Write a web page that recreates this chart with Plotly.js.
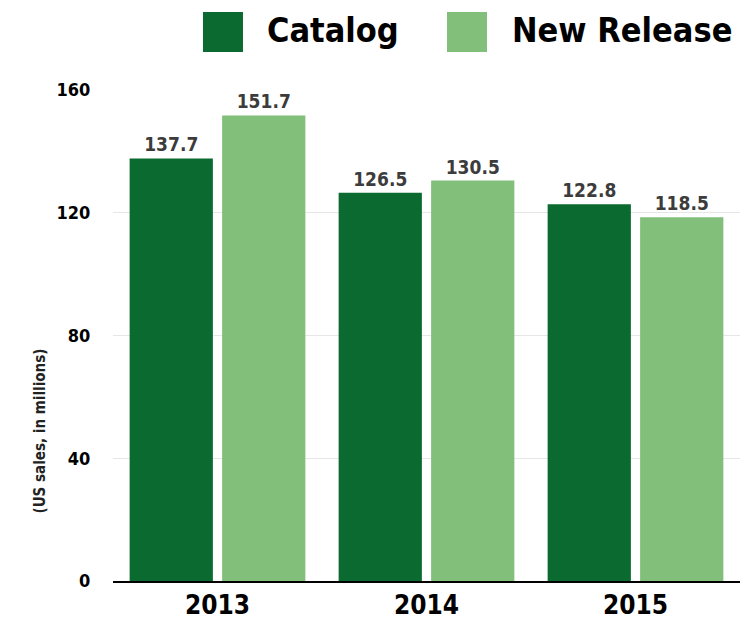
<!DOCTYPE html>
<html><head><meta charset="utf-8">
<script src="https://cdn.plot.ly/plotly-3.0.1.min.js"></script>
<style>body{margin:0;background:#fff}#c{width:750px;height:628px}</style>
</head><body><div id="c"></div>
<script>
const years = ['2013', '2014', '2015'];
const catalog = [137.7, 126.5, 122.8];
const newRelease = [151.7, 130.5, 118.5];
const seriesNames = ['Catalog', 'New Release'];
const colors = ['#0a6a2f', '#82bf7a'];
const yTicks = [0, 40, 80, 120, 160];
const yTitle = '(US sales, in millions)';

const FONT = '"DejaVu Sans Condensed", "Liberation Sans Narrow", sans-serif';

const mk = (name, vals, color) => ({
  type: 'bar', name: name, x: years, y: vals,
  marker: {color: color},
  text: vals.map(v => v.toFixed(1)),
  textposition: 'outside', cliponaxis: false,
  textfont: {family: FONT, size: 19, color: '#3c3c3c', weight: 'bold'},
  hoverinfo: 'x+y', showlegend: false
});

const data = [mk(seriesNames[0], catalog, colors[0]), mk(seriesNames[1], newRelease, colors[1])];

const legendX = [[0.1435, 0.2073, 0.2424], [0.5327, 0.5965, 0.6332]];
const shapes = [], annotations = [];
seriesNames.forEach((n, i) => {
  shapes.push({type: 'rect', xref: 'paper', yref: 'paper', x0: legendX[i][0], x1: legendX[i][1],
    y0: 1.0774, y1: 1.1589, fillcolor: colors[i], line: {width: 0}});
  annotations.push({xref: 'paper', yref: 'paper', x: legendX[i][2], y: 1.1222, xanchor: 'left', yanchor: 'middle',
    text: n, showarrow: false, font: {family: FONT, size: 34, color: '#000', weight: 'bold'}});
});
annotations.push({xref: 'paper', yref: 'paper', x: -0.116, y: 0.305, xanchor: 'center', yanchor: 'middle',
  textangle: -90, text: yTitle, showarrow: false, font: {family: FONT, size: 15, color: '#222', weight: 'bold'}});

const layout = {
  width: 750, height: 628,
  margin: {l: 113, r: 10, t: 90, b: 47},
  paper_bgcolor: '#fff', plot_bgcolor: '#fff',
  barmode: 'group', bargap: 0.115, bargroupgap: 0.1,
  showlegend: false,
  font: {family: FONT},
  xaxis: {
    tickfont: {family: FONT, size: 26, color: '#000', weight: 'bold'},
    showline: true, linecolor: '#000', linewidth: 1.5, ticks: '', showgrid: false
  },
  yaxis: {
    range: [0, 160], tickvals: yTicks, ticktext: yTicks.map(String),
    tickfont: {family: FONT, size: 18, color: '#000', weight: 'bold'},
    gridcolor: '#e6e6e6', zeroline: false,
    ticks: 'outside', ticklen: 18, tickcolor: 'rgba(0,0,0,0)'
  },
  shapes: shapes, annotations: annotations
};

Plotly.newPlot('c', data, layout, {displayModeBar: false, staticPlot: true});
</script></body></html>
